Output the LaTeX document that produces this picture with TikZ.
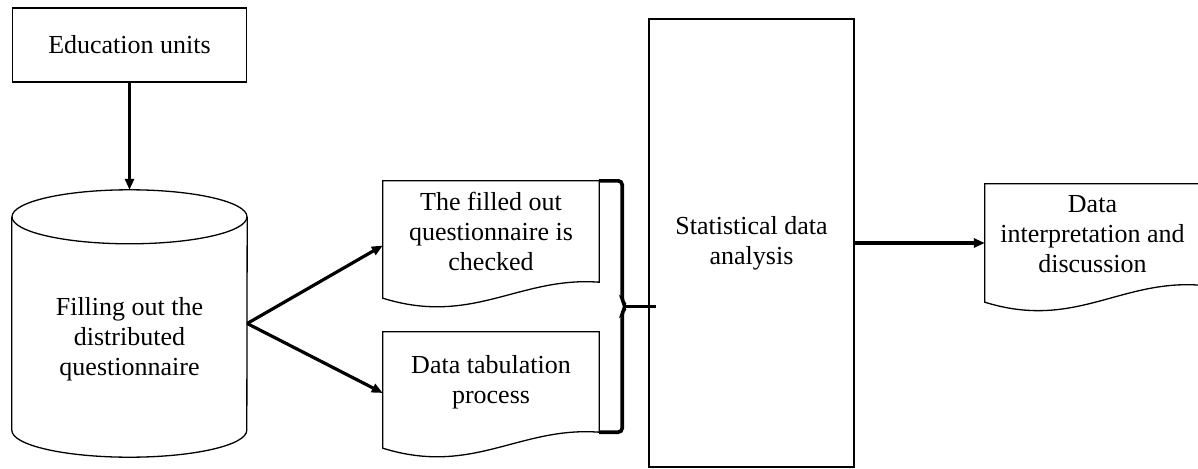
\documentclass[tikz,border=0pt]{standalone}
\usepackage{fontspec}
\setmainfont{Liberation Serif}
\newfontfamily\tnrfont{Liberation Serif}[Scale=1.0]
\usetikzlibrary{arrows.meta,calc,positioning}

\begin{document}
\begin{tikzpicture}[x=1pt, y=-1pt, box/.style={draw, line width=1.3pt}, txt/.style={inner sep=0pt, align=center, font=\tnrfont\fontsize{26}{30}\selectfont}, arr/.style={-{Triangle[length=11pt,width=9pt]}, line width=3.2pt}, brace/.style={line width=3.6pt, rounded corners=4pt}]
			\useasboundingbox (0,0) rectangle (1198,468);

			\node[box, txt, minimum width=234pt, minimum height=74pt] (units) at (129.5,45) {Education units};
			\node[txt, minimum width=235pt, minimum height=267pt] (fill) at (129.5,323.5) {};
			\node[txt] (filltext) at (129.5,339) {Filling out the\\distributed\\questionnaire};
			\node[txt, minimum width=216pt, minimum height=101pt] (check) at (491,231.5) {The filled out\\questionnaire is\\checked};
			\node[txt, minimum width=216pt, minimum height=100pt] (tab) at (491,382) {Data tabulation\\process};
			\node[box, txt, minimum width=205pt, minimum height=448pt] (stat) at (751.5,243) {Statistical data\\analysis};
			\node[txt, minimum width=215pt, minimum height=101pt] (interp) at (1092.5,234.5) {Data\\interpretation and\\discussion};

			% cylinder
			\draw[box] ([yshift=-27pt]fill.north) ellipse [x radius=117.5pt, y radius=27pt];
			\draw[box] ([yshift=-27pt]fill.north west) -- ([yshift=27pt]fill.south west) arc [start angle=180, end angle=360, x radius=117.5pt, y radius=27pt] -- ([yshift=-27pt]fill.north east);

			% documents
			\draw[box] (check.south west) -- (check.north west) -- (check.north east) -- (check.south east) .. controls +(-80pt,6pt) and +(90pt,-28pt) .. ([yshift=-16pt]check.south west) -- cycle;
			\draw[box] (tab.south west) -- (tab.north west) -- (tab.north east) -- (tab.south east) .. controls +(-80pt,6pt) and +(90pt,-28pt) .. ([yshift=-16pt]tab.south west) -- cycle;
			\draw[box] (interp.south west) -- (interp.north west) -- (interp.north east) -- (interp.south east) .. controls +(-80pt,6pt) and +(90pt,-28pt) .. ([yshift=-17pt]interp.south west) -- cycle;

			\draw[arr] (units) -- (fill);
			\draw[arr] (fill.east) -- ([yshift=-14pt]check.west);
			\draw[arr] (fill.east) -- ([yshift=-11pt]tab.west);
			\draw[arr] (stat.east) -- (stat.east -| interp.west);

			% brace
			\coordinate (tip) at ($(check.north east)!0.5!(tab.south east) + (27,0)$);
			\draw[brace] (check.north east) -- ++(23,0) -- ([shift={(-4,-5)}]tip) -- (tip) -- ([shift={(-4,5)}]tip) -- ($(tab.south east)+(23,0)$) -- (tab.south east);
			\draw[line width=3.2pt] (tip) -- ($(tip -| stat.west)+(8,0)$);
		\end{tikzpicture}
\end{document}
